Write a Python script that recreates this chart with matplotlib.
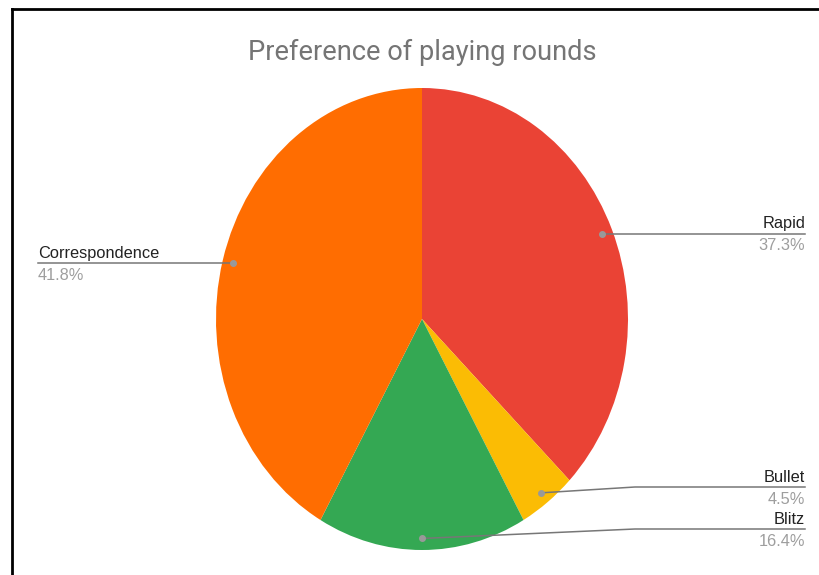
import matplotlib
matplotlib.use("Agg")
import matplotlib.pyplot as plt
import numpy as np
from matplotlib.lines import Line2D

labels = ["Rapid", "Bullet", "Blitz", "Correspondence"]
shares = [37.3, 4.5, 16.4, 41.8]
colors = ["#EA4335", "#FBBC04", "#34A853", "#FF6D01"]
pct_text = ["37.3%", "4.5%", "16.4%", "41.8%"]

W, H = 819, 575
plt.rcParams["font.family"] = ["Liberation Sans", "DejaVu Sans"]

fig = plt.figure(figsize=(W / 100, H / 100), dpi=100)

# pie box in pixels (the original is stretched vertically)
left, right, top, bottom = 216, 628, 88, 550
ax = fig.add_axes([left / W, 1 - bottom / H, (right - left) / W, (bottom - top) / H])
ax.pie(shares, colors=colors, startangle=90, counterclock=False, radius=1,
       wedgeprops=dict(linewidth=0))
ax.set_aspect("auto")
ax.set_xlim(-1, 1)
ax.set_ylim(-1, 1)
ax.axis("off")

# label layout: line end x, elbow x, label y (data units), side
cx_px, cy_px = (left + right) / 2, (top + bottom) / 2
rx, ry = (right - left) / 2, (bottom - top) / 2
def px_x(p):
    return (p - cx_px) / rx
def px_y(p):
    return (cy_px - p) / ry

label_y = {"Bullet": px_y(487), "Blitz": px_y(529)}
elbow_x = px_x(635)
end_right = px_x(805)
end_left = px_x(38)

cum = np.cumsum([0] + shares)
for i, name in enumerate(labels):
    mid = 90 - (cum[i] + shares[i] / 2) * 3.6
    a = np.radians(mid)
    dx, dy = 0.95 * np.cos(a), 0.95 * np.sin(a)
    ax.plot([dx], [dy], "o", color="#999999", ms=4, clip_on=False, zorder=5)
    if name in label_y:
        ly = label_y[name]
        xs, ys = [dx, elbow_x, end_right], [dy, ly, ly]
    else:
        ly = dy
        xs, ys = [dx, end_right if dx > 0 else end_left], [dy, dy]
    ax.plot(xs, ys, color="#777777", lw=1.1, clip_on=False, zorder=4)
    tx = end_right if dx > 0 else end_left
    ha = "right" if dx > 0 else "left"
    ax.text(tx, ly + 0.010, name, ha=ha, va="bottom", fontsize=11.8, color="#222222")
    ax.text(tx, ly - 0.020, pct_text[i], ha=ha, va="top", fontsize=11.8, color="#9E9E9E")

fig.text(422 / W, 1 - 52 / H, "Preference of playing rounds", ha="center", va="center",
         fontsize=19.6, color="#757575", family=["Roboto", "DejaVu Sans"])

# black frame (cut off at right and bottom)
fig.add_artist(Line2D([12 / W, 12 / W], [0, 1 - 9 / H], color="black", lw=2))
fig.add_artist(Line2D([12 / W, 1], [1 - 9 / H, 1 - 9 / H], color="black", lw=2))

fig.savefig("out.png", dpi=100, facecolor="white")
